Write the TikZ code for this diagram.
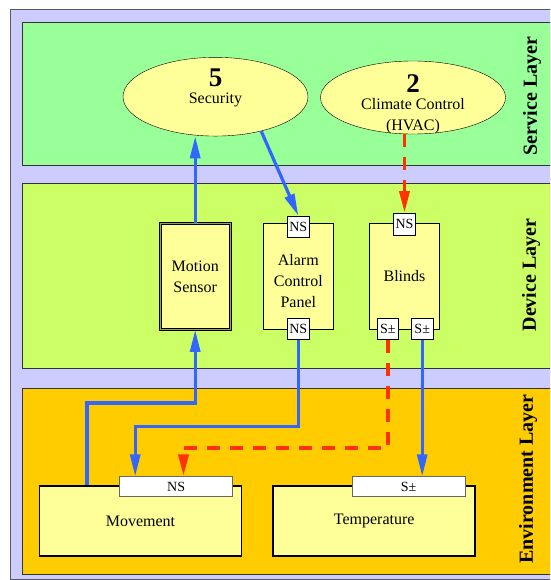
\documentclass[tikz,border=0pt]{standalone}
\usepackage{fontspec}
\setmainfont{Liberation Serif}
\usepackage{tikz}
\usetikzlibrary{positioning,shapes.geometric,arrows.meta}

\definecolor{frameblue}{HTML}{CCCCFF}
\definecolor{svcgreen}{HTML}{99FF99}
\definecolor{devgreen}{HTML}{CCFF66}
\definecolor{envyellow}{HTML}{FFCC00}
\definecolor{boxyellow}{HTML}{FFFF99}
\definecolor{wireblue}{HTML}{3366FF}
\definecolor{wirered}{HTML}{FF3300}
\definecolor{rim}{HTML}{9C9C64}

\begin{document}
\begin{tikzpicture}[
		x=1pt, y=-1pt
		,font=\fontsize{16}{21}\selectfont
		,layer/.style={draw=black!80, line width=.8pt, anchor=north west, minimum width=560pt}
		,layerlbl/.style={rotate=90, font=\fontsize{20}{24}\selectfont\bfseries}
		,svc/.style={draw, ellipse, fill=boxyellow, minimum width=185pt, minimum height=73pt, inner sep=0pt, align=center}
		,dev/.style={draw, rectangle, fill=boxyellow, minimum width=70pt, minimum height=106pt, inner sep=0pt, align=center}
		,sensor/.style={dev, double=rim, double distance=1.4pt, line width=.7pt}
		,env/.style={draw, rectangle, line width=1.8pt, fill=boxyellow, minimum width=202pt, minimum height=70pt}
		,port/.style={draw, fill=white, line width=.7pt, minimum size=21.5pt, inner sep=0pt, font=\fontsize{14}{14}\selectfont}
		,wideport/.style={draw=black!60, fill=white, line width=.8pt, minimum width=113pt, minimum height=19.5pt, inner sep=0pt, font=\fontsize{14}{14}\selectfont}
		,flow/.style={wireblue, line width=3.2pt, -{Triangle[length=22pt,width=10pt]}}
		,ctrl/.style={wirered, line width=3.8pt, dash pattern=on 13pt off 10pt, -{Triangle[length=22pt,width=10pt]}}
		,txt/.style={align=center, inner sep=0pt}
	]
		\useasboundingbox (0,0) rectangle (550,580);
		\clip (0,0) rectangle (550,580);

		% frame and layers
		\node[draw=black!65, line width=1pt, fill=frameblue, anchor=north west, minimum width=600pt, minimum height=570pt] (frame) at (10,9) {};
		\node[layer, fill=svcgreen, minimum height=142.7pt] (service) at (21.7,22.3) {};
		\node[layer, fill=devgreen, minimum height=185pt] (device) at (21.7,182.7) {};
		\node[layer, fill=envyellow, minimum height=186pt] (environment) at (21.7,388) {};
		\node[layerlbl] (servicelbl) at (532,96) {Service Layer};
		\node[layerlbl] (devicelbl) at (531,275) {Device Layer};
		\node[layerlbl] (environmentlbl) at (528,479) {Environment Layer};

		% services
		\node[svc] (security) at (215.5,96.7) {{\fontsize{27}{27}\selectfont\bfseries 5}\\[-4pt]Security\\\mbox{}};
		\node[svc] (climate) at (413,97.5) {};
		\node[txt] (climatelbl) at (413,104) {{\fontsize{27}{27}\selectfont\bfseries 2}\\[-4pt]Climate Control\\(HVAC)};

		% devices
		\node[sensor] (motion) at (195.2,276.5) {Motion\\Sensor};
		\node[dev] (alarm) at (298.3,276.2) {};
		\node[txt] (alarmlbl) at (298.3,281.5) {Alarm\\Control\\Panel};
		\node[dev] (blinds) at (404.5,276.2) {Blinds};
		\node[port, below=-7.3pt of alarm.north] (alarmin) {NS};
		\node[port, above=-10.3pt of alarm.south] (alarmout) {NS};
		\node[port, below=-10pt of blinds.north] (blindsin) {NS};
		\node[port, above=-10.3pt of blinds.south, xshift=-16.7pt] (blindsoutl) {S±};
		\node[port, above=-10.3pt of blinds.south, xshift=17.7pt] (blindsoutr) {S±};

		% environment
		\node[env] (movement) at (140.5,520.9) {Movement};
		\node[env] (temperature) at (374.2,520.9) {Temperature};
		\node[wideport, below left=-8.7pt and 9.4pt of movement.north east] (movementin) {NS};
		\node[wideport, below left=-8.7pt and 10.7pt of temperature.north east] (temperaturein) {S±};

		% connectors
		\draw[flow] ([xshift=48.4pt]movement.north west) -- ++(0,-82) -| (motion.south);
		\draw[flow] (motion.north) -- (motion.north |- security.south);
		\draw[flow] (security.-37) -- (alarmin.north);
		\draw[ctrl] (blindsin.north |- climate.south) -- (blindsin.north);
		\draw[flow] (alarmout.south) -- ++(0,87) -| ([xshift=16pt]movementin.north west);
		\draw[ctrl] (blindsoutl.south) -- ++(0,108.4) -| ([xshift=64.3pt]movementin.north west);
		\draw[flow] (blindsoutr.south) -- (blindsoutr.south |- temperaturein.north);
	\end{tikzpicture}
\end{document}
